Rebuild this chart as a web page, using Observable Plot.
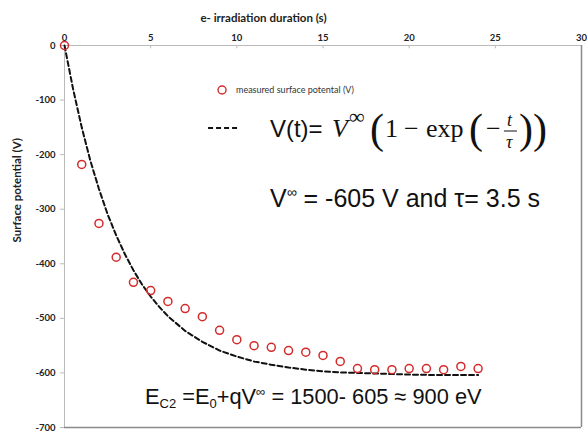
<!DOCTYPE html>
<html><head><meta charset="utf-8">
<script src="https://cdn.jsdelivr.net/npm/d3@7"></script>
<script src="https://cdn.jsdelivr.net/npm/@observablehq/plot@0.6"></script>
<style>
body{margin:0;background:#fff;}
#chart svg{display:block;}
#chart g[aria-label="x-axis tick label"] text,
#chart g[aria-label="y-axis tick label"] text{font-weight:700;}
#chart g.annotations text{text-anchor:start;}
</style></head><body><div id="chart"></div>
<script>
// measured points (s, V)
const times = [0,1,2,3,4,5,6,7,8,9,10,11,12,13,14,15,16,17,18,19,20,21,22,23,24];
const measured = [0,-218,-326,-388,-434,-449,-469,-482,-497,-522,-539,-550,-553,-559,-562,-568,-579,-592,-594,-594,-592,-592,-594,-588,-592];
// dashed fit curve read along its path (s, V)
const fitT = [0,0.5,1,1.5,2,2.5,3,3.5,4,4.5,5,5.5,6,7,8,9,10,11,12,13,14,15,16,17,18,19,20,22,24];
const fitV = [0,-80,-150,-211,-263,-309,-348,-382,-412,-438,-460,-479,-496,-523,-543,-559,-570,-579,-585,-590,-594,-597,-599,-600,-601,-602,-603,-604,-604];
const xTicks = [0,5,10,15,20,25,30];
const yTicks = [0,-100,-200,-300,-400,-500,-600,-700];
const xTitle = "e- irradiation duration (s)";
const yTitle = "Surface potential (V)";
const legendLabel = "measured surface potental (V)";

const pts = times.map((t,i)=>({t, v: measured[i]}));
const fit = fitT.map((t,i)=>({t, v: fitV[i]}));
const RED = "#d42a2a";
const TICKFONT = "Lato, 'Open Sans', sans-serif";

const chart = Plot.plot({
  width: 587, height: 431,
  marginLeft: 64, marginRight: 6, marginTop: 45, marginBottom: 4,
  style: {background: "#fff", color: "#222", fontFamily: TICKFONT},
  x: {domain: [0,30]},
  y: {domain: [-700,0]},
  marks: [
    Plot.ruleY([0], {stroke: "#bbb", strokeWidth: 1}),
    Plot.ruleX([0], {stroke: "#bbb", strokeWidth: 1}),
    Plot.ruleX([30], {stroke: "#8a8a8a", strokeWidth: 1.5}),
    Plot.ruleY([-700], {stroke: "#8a8a8a", strokeWidth: 1.5}),
    Plot.ruleX(xTicks.slice(1,-1), {y1: 0, y2: -6, stroke: "#bbb"}),
    Plot.axisX({anchor: "top", ticks: xTicks, tickSize: 0, tickPadding: 5, fontSize: 9.5, label: null, tickFormat: d => String(d)}),
    Plot.axisY({anchor: "left", ticks: yTicks, tickSize: 4, tickPadding: 5, fontSize: 9.5, stroke: "#bbb", label: null, tickFormat: d => String(d)}),
    Plot.text([xTitle], {frameAnchor: "top-left", dx: 199, dy: -24, fontSize: 11.5, fontWeight: "bold", fill: "#222", textAnchor: "middle", lineAnchor: "bottom"}),
    Plot.text([yTitle], {frameAnchor: "left", dx: -47, dy: 6, rotate: -90, fontSize: 11.5, fontWeight: "bold", fill: "#222"}),
    Plot.line(fit, {x: "t", y: "v", stroke: "#111", strokeWidth: 2, strokeDasharray: "5,3"}),
    Plot.dot(pts, {x: "t", y: "v", r: 4, stroke: RED, strokeWidth: 1.5, fill: "none"})
  ]
});
document.getElementById("chart").appendChild(chart);

const X = chart.scale("x").apply, Y = chart.scale("y").apply;
const svg = d3.select(chart).append("g").attr("class","annotations").attr("text-anchor","start");

// legend
svg.append("circle").attr("cx", X(9.17)).attr("cy", Y(-82.5)).attr("r", 4)
  .attr("fill","none").attr("stroke", RED).attr("stroke-width", 1.4);
svg.append("text").attr("x", X(9.98)).attr("y", Y(-88)).attr("font-size", 9)
  .attr("font-family", TICKFONT).attr("fill", "#333").text(legendLabel);
svg.append("line").attr("x1", X(8.36)).attr("x2", X(10.21)).attr("y1", Y(-152)).attr("y2", Y(-152))
  .attr("stroke", "#111").attr("stroke-width", 2).attr("stroke-dasharray", "5,3");

// formula
const fx = X(11.95), fy = Y(-168.6);
const SERIF = "'Liberation Serif', 'DejaVu Serif', serif";
const SANS = "'Liberation Sans', Arial, sans-serif";
function piece(dx, dy, str, size, family, italic){
  svg.append("text").attr("x", fx+dx).attr("y", fy+dy).attr("font-size", size)
    .attr("font-family", family).attr("font-style", italic ? "italic" : "normal")
    .attr("fill", "#111").text(str);
}
piece(0, 0, "V(t)=", 24, SANS);
piece(62, 0, "V", 26, SERIF, true);
piece(79, -13, "∞", 22, SERIF);
piece(100, 6, "(", 42, SERIF);
piece(115, 0, "1", 26, SERIF);
piece(134, 0, "−", 26, SERIF);
piece(156, 0, "exp", 26, SERIF);
piece(199, 6, "(", 42, SERIF);
piece(216, 0, "−", 26, SERIF);
piece(237, -11, "t", 18, SERIF, true);
piece(236, 11, "τ", 18, SERIF, true);
svg.append("line").attr("x1", fx+234).attr("x2", fx+247).attr("y1", fy-6).attr("y2", fy-6)
  .attr("stroke","#111").attr("stroke-width",1);
piece(249, 6, "))", 42, SERIF);

// V∞ line
const t2 = svg.append("text").attr("x", X(11.95)).attr("y", Y(-296.9)).attr("font-size", 25)
  .attr("font-family", SANS).attr("fill", "#111");
t2.append("tspan").text("V");
t2.append("tspan").attr("font-size", 14).attr("dy", -10).text("∞");
t2.append("tspan").attr("dy", 10).text(" = -605 V and τ= 3.5 s");

// E_C2 line
const t3 = svg.append("text").attr("x", X(4.7)).attr("y", Y(-657.9)).attr("font-size", 21.8)
  .attr("font-family", SANS).attr("fill", "#111");
t3.append("tspan").text("E");
t3.append("tspan").attr("font-size", 13).attr("dy", 4).text("C2");
t3.append("tspan").attr("dy", -4).text(" =E");
t3.append("tspan").attr("font-size", 13).attr("dy", 4).text("0");
t3.append("tspan").attr("dy", -4).text("+qV");
t3.append("tspan").attr("font-size", 13).attr("dy", -8).text("∞");
t3.append("tspan").attr("dy", 8).text(" = 1500- 605 ≈ 900 eV");
</script></body></html>
